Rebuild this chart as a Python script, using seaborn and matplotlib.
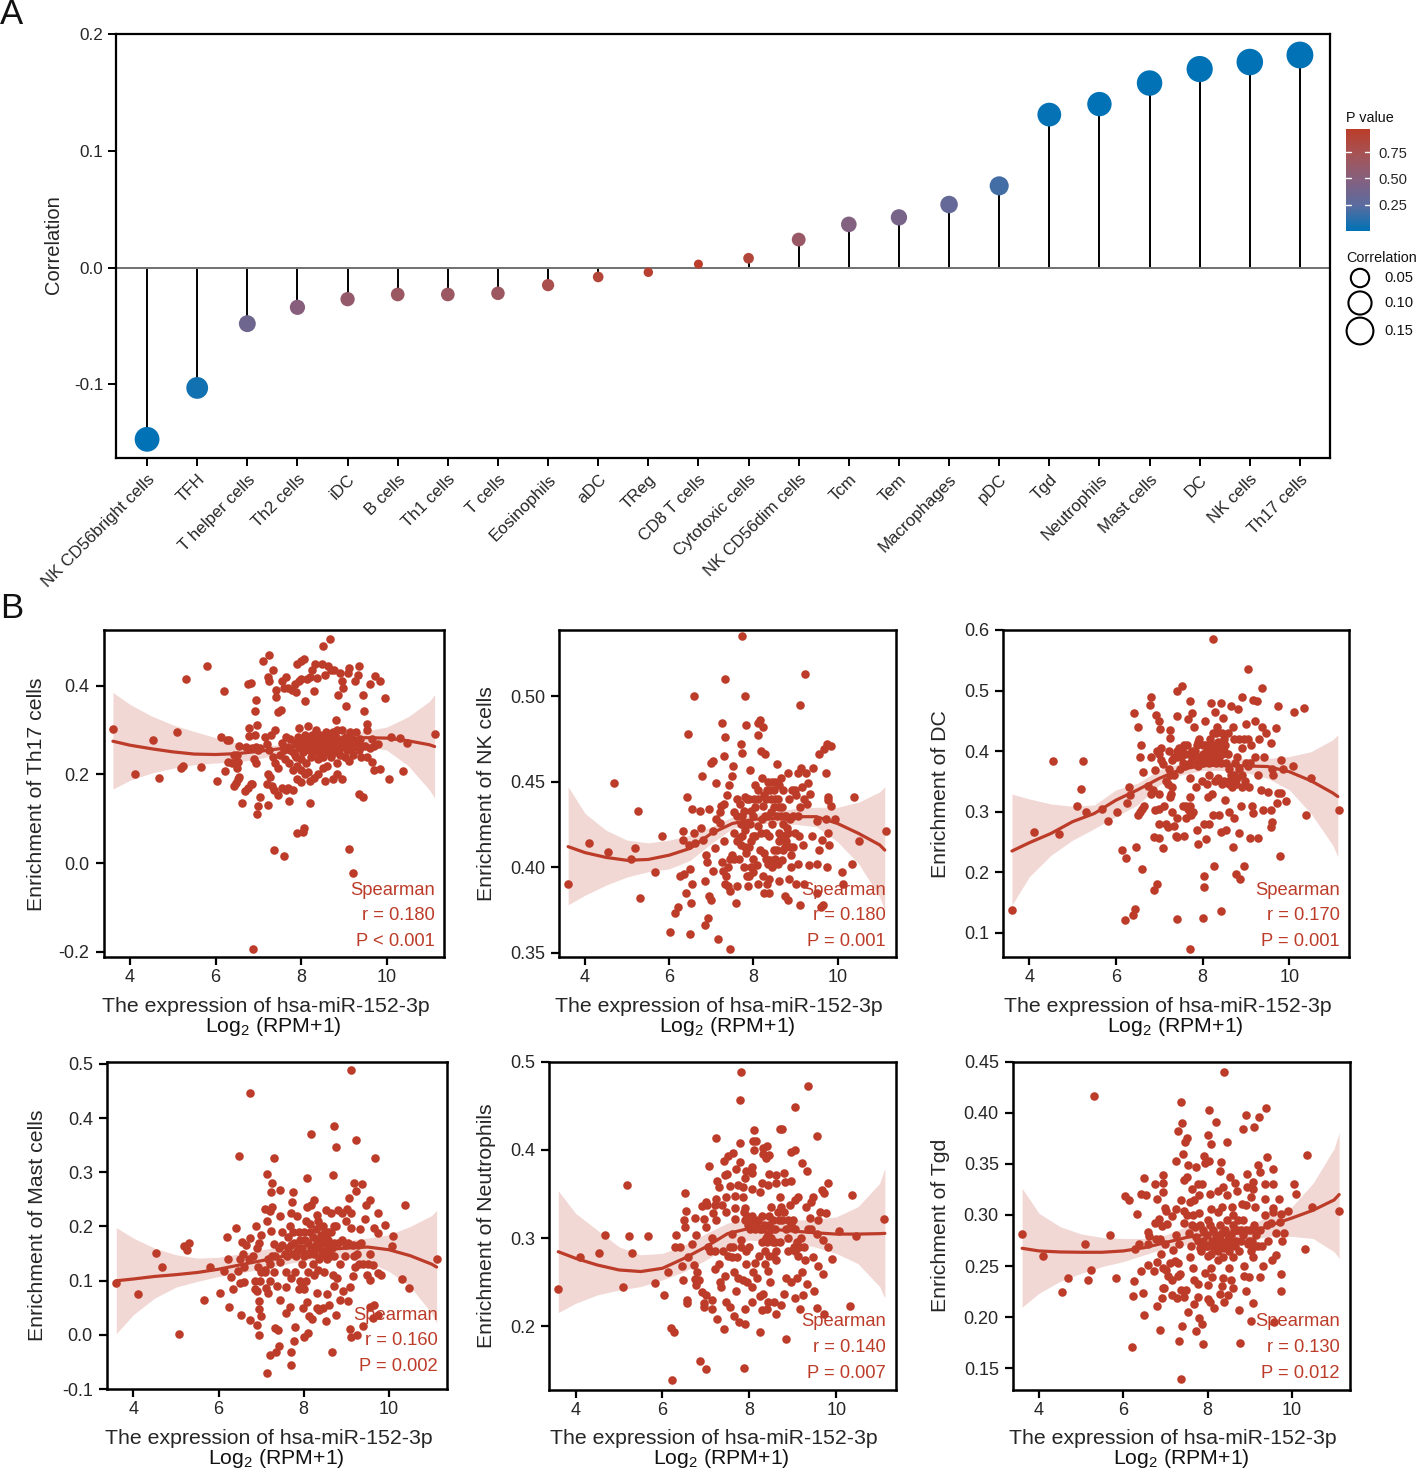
import numpy as np
import pandas as pd
import matplotlib
matplotlib.use("Agg")
import matplotlib.pyplot as plt
from matplotlib.cm import ScalarMappable
from matplotlib.colors import LinearSegmentedColormap, Normalize
import seaborn as sns

RED = "#BC3C29"
BLUE = "#0072B5"
W, H = 1416, 1472

# panel A
cell_types = ["NK CD56bright cells", "TFH", "T helper cells", "Th2 cells", "iDC", "B cells",
              "Th1 cells", "T cells", "Eosinophils", "aDC", "TReg", "CD8 T cells",
              "Cytotoxic cells", "NK CD56dim cells", "Tcm", "Tem", "Macrophages", "pDC",
              "Tgd", "Neutrophils", "Mast cells", "DC", "NK cells", "Th17 cells"]
correlation = [-0.147, -0.103, -0.048, -0.034, -0.027, -0.023, -0.023, -0.022, -0.015, -0.008,
               -0.004, 0.003, 0.008, 0.024, 0.037, 0.043, 0.054, 0.070, 0.131, 0.140, 0.158,
               0.170, 0.176, 0.182]
p_value = [0.004, 0.05, 0.36, 0.50, 0.60, 0.65, 0.65, 0.66, 0.77, 0.88, 0.93, 0.96, 0.87, 0.64,
           0.47, 0.41, 0.30, 0.18, 0.012, 0.007, 0.002, 0.001, 0.001, 0.0005]
legend_corr = [0.05, 0.10, 0.15]
p_ticks = [0.25, 0.50, 0.75]

# panel B: fitted curves
curve_x = [3.6, 4, 4.5, 5, 5.5, 6, 6.5, 7, 7.5, 8, 8.5, 9, 9.5, 10, 10.5, 11, 11.12]

th17_line = [.275, .266, .258, .251, .246, .245, .247, .252, .258, .265, .272, .279, .283, .282, .276, .267, .263]
th17_hi = [.385, .358, .332, .312, .297, .283, .271, .263, .267, .275, .282, .29, .298, .307, .33, .365, .38]
th17_lo = [.167, .187, .203, .214, .222, .226, .228, .235, .247, .255, .262, .266, .264, .255, .22, .165, .147]

nk_line = [.412, .4085, .4057, .404, .4045, .407, .411, .4197, .4255, .428, .4285, .4295, .4295, .4255, .4197, .413, .41]
nk_hi = [.447, .4314, .4216, .4158, .4142, .4158, .4187, .4236, .4294, .4314, .4324, .4343, .435, .435, .438, .444, .447]
nk_lo = [.378, .3836, .3895, .3943, .3973, .399, .404, .4138, .4226, .4255, .4255, .425, .4236, .4148, .402, .3826, .375]

dc_line = [.235, .2487, .264, .2835, .297, .319, .336, .355, .37, .376, .377, .3755, .3745, .366, .351, .331, .325]
dc_hi = [.329, .321, .3127, .309, .311, .336, .347, .369, .38, .3855, .3866, .388, .388, .391, .399, .4186, .427]
dc_lo = [.1456, .1925, .228, .253, .272, .292, .311, .344, .3607, .368, .368, .3645, .355, .336, .297, .245, .2255]

mast_line = [.0997, .103, .1077, .111, .115, .121, .129, .1366, .1446, .1526, .157, .16, .162, .157, .146, .1305, .125]
mast_hi = [.198, .1785, .16, .1477, .1415, .143, .1495, .157, .163, .169, .172, .174, .1785, .1846, .2, .22, .2295]
mast_lo = [.002, .037, .0677, .088, .0985, .1077, .114, .121, .129, .137, .14, .143, .135, .117, .089, .04, .0215]

neut_line = [.2845, .277, .2694, .2638, .262, .2657, .277, .29, .305, .311, .31, .308, .306, .3045, .3045, .305, .3053]
neut_hi = [.3536, .328, .309, .29, .281, .2826, .292, .305, .317, .322, .322, .3204, .321, .324, .3355, .362, .379]
neut_lo = [.2155, .226, .2355, .241, .245, .2525, .262, .275, .29, .2977, .296, .2947, .29, .2826, .271, .245, .2317]

tgd_line = [.2674, .2648, .2638, .2635, .2635, .2648, .268, .273, .278, .2814, .282, .2827, .29, .297, .3046, .3147, .32]
tgd_hi = [.326, .3016, .2886, .2814, .278, .277, .277, .2804, .2886, .29, .29, .29, .30, .308, .331, .365, .3805]
tgd_lo = [.2097, .2234, .235, .243, .2495, .2544, .261, .2674, .2707, .273, .274, .2755, .2795, .279, .277, .264, .2576]

# panel B: points as (expression, enrichment)
th17_points = [
    (3.6, .303), (4.12, .2), (4.54, .278), (4.68, .192), (5.09, .295), (5.19, .215), (5.25, .22), (5.3, .415),
    (5.67, .216), (5.81, .445), (6.03, .186), (6.13, .284), (6.22, .207), (6.2, .388), (6.26, .277), (6.32, .278),
    (6.75, .405), (6.82, .407), (6.92, .344), (6.95, .367), (6.98, .312), (7.12, .455), (7.23, .42), (7.26, .41),
    (7.26, .47), (7.35, .435), (7.42, .39), (7.42, .375), (7.47, .34), (7.52, .345), (7.55, .41), (7.6, .395),
    (7.65, .42), (7.7, .395), (7.78, .39), (7.85, .405), (7.88, .385), (7.9, .45), (7.95, .41), (8.0, .455),
    (8.0, .415), (8.06, .46), (8.1, .365), (8.13, .415), (8.2, .42), (8.25, .435), (8.3, .388), (8.32, .45),
    (8.38, .418), (8.5, .49), (8.48, .45), (8.55, .425), (8.62, .445), (8.68, .505), (8.7, .435), (8.78, .435),
    (8.87, .38), (8.92, .43), (8.95, .41), (8.98, .395), (9.05, .355), (9.1, .43), (9.12, .44), (9.27, .41),
    (9.35, .445), (9.33, .425), (9.45, .38), (9.47, .343), (9.6, .405), (9.73, .422), (9.85, .41), (9.95, .372),
    (8.82, .323), (8.83, .3), (6.3, .227), (6.38, .225), (6.42, .245), (6.48, .23), (6.5, .215), (6.52, .228),
    (6.55, .265), (6.5, .245), (6.42, .175), (6.47, .18), (6.52, .19), (6.55, .195), (6.62, .135), (6.68, .163),
    (6.75, .17), (6.82, .178), (6.85, .179), (6.98, .11), (7.0, .128), (7.05, .15), (7.22, .13), (7.2, .178),
    (7.22, .2), (7.27, .195), (7.32, .175), (7.37, .165), (7.45, .153), (7.37, .03), (7.6, .015), (7.55, .17),
    (7.65, .165), (7.7, .17), (7.72, .14), (7.8, .165), (7.9, .068), (8.05, .071), (8.06, .08), (8.2, .135),
    (7.9, .19), (8.0, .182), (8.2, .185), (8.3, .192), (8.4, .2), (8.55, .185), (8.75, .19), (8.85, .2),
    (8.95, .19), (9.12, .032), (9.22, -.022), (9.35, .155), (9.45, .15), (6.87, -.193), (7.9, .22), (8.0, .21),
    (8.1, .2), (8.15, .205), (8.5, .215), (8.6, .22), (9.4, .24), (9.55, .24), (9.65, .228), (9.7, .21),
    (9.85, .212), (10.06, .19), (10.37, .208), (10.1, .284), (10.31, .283), (10.47, .27), (11.12, .292), (9.5, .265),
    (9.6, .26), (9.65, .28), (9.7, .265), (9.8, .268), (9.55, .313), (9.55, .3), (6.7, .263), (6.85, .26),
    (6.95, .262), (7.0, .255), (7.05, .26), (6.9, .235), (6.95, .225), (6.78, .305), (6.78, .287), (6.92, .29),
    (7.15, .285), (7.2, .268), (7.25, .255), (7.3, .29), (7.4, .3), (7.35, .24), (7.4, .225), (7.45, .215),
    (7.5, .245), (7.55, .27), (7.6, .255), (7.62, .235), (7.65, .285), (7.7, .262), (7.72, .225), (7.75, .28),
    (7.8, .25), (7.82, .21), (7.85, .27), (7.88, .24), (7.92, .285), (7.95, .26), (7.95, .305), (8.0, .235),
    (8.02, .275), (8.05, .25), (8.1, .29), (8.1, .265), (8.12, .225), (8.15, .31), (8.18, .255), (8.2, .275),
    (8.22, .24), (8.25, .29), (8.28, .265), (8.3, .25), (8.32, .28), (8.35, .3), (8.38, .26), (8.4, .235),
    (8.42, .275), (8.45, .29), (8.45, .25), (8.48, .265), (8.5, .28), (8.52, .24), (8.55, .26), (8.58, .295),
    (8.6, .27), (8.62, .25), (8.65, .285), (8.68, .26), (8.7, .24), (8.72, .275), (8.75, .295), (8.78, .265),
    (8.8, .25), (8.82, .285), (8.85, .225), (8.88, .27), (8.9, .245), (8.92, .26), (8.95, .3), (8.98, .28),
    (9.0, .265), (9.02, .24), (9.05, .285), (9.08, .255), (9.1, .27), (9.12, .23), (9.15, .295), (9.18, .26),
    (9.2, .28), (9.22, .245), (9.28, .295), (9.3, .27), (9.35, .255), (9.38, .28), (9.42, .265),
    (7.75, .255), (7.85, .245), (7.98, .27), (8.08, .28), (8.16, .26), (8.24, .27), (8.34, .255), (8.44, .27),
    (8.54, .275), (8.64, .265), (8.74, .255), (8.84, .27), (8.94, .275), (9.04, .27), (9.14, .265), (9.24, .27),
]

nk_points = [
    (3.6, .39), (4.1, .414), (4.54, .409), (4.68, .449), (5.09, .405), (5.19, .411), (5.25, .433), (5.3, .382),
    (5.67, .397), (5.82, .418), (6.03, .362), (6.13, .373), (6.22, .377), (6.26, .395), (6.32, .421), (6.32, .416),
    (6.35, .396), (6.4, .385), (6.42, .441), (6.45, .478), (6.48, .413), (6.5, .399), (6.5, .361), (6.52, .379),
    (6.55, .39), (6.55, .434), (6.58, .42), (6.6, .5), (6.62, .414), (6.72, .433), (6.75, .423), (6.78, .453),
    (6.8, .416), (6.85, .366), (6.85, .392), (6.88, .407), (6.9, .403), (6.92, .37), (6.95, .383), (6.95, .434),
    (7.0, .381), (7.0, .461), (7.05, .462), (7.05, .398), (7.05, .421), (7.08, .411), (7.1, .449), (7.12, .428),
    (7.2, .432), (7.2, .426), (7.3, .415), (7.15, .358), (7.44, .352), (7.22, .436), (7.25, .403), (7.28, .398),
    (7.3, .465), (7.3, .437), (7.32, .39), (7.25, .484), (7.38, .442), (7.42, .448), (7.33, .51), (7.33, .476),
    (7.4, .389), (7.45, .386), (7.5, .407), (7.55, .405), (7.5, .453), (7.52, .459), (7.58, .379), (7.62, .389),
    (7.65, .417), (7.68, .437), (7.7, .413), (7.7, .472), (7.72, .467), (7.72, .535), (7.8, .5), (7.82, .483),
    (7.72, .43), (7.8, .441), (7.8, .422), (7.85, .395), (7.88, .389), (7.9, .412), (7.92, .457), (7.95, .433),
    (7.98, .418), (8.0, .397), (8.02, .44), (8.05, .448), (8.08, .401), (8.1, .424), (8.1, .477), (8.12, .484),
    (8.15, .486), (8.18, .468), (8.2, .452), (8.22, .436), (8.25, .385), (8.25, .408), (8.22, .482), (8.3, .42),
    (8.32, .445), (8.28, .466), (8.38, .393), (8.4, .404), (8.42, .432), (8.45, .45), (8.38, .385), (8.5, .41),
    (8.52, .44), (8.55, .46), (8.58, .402), (8.6, .42), (8.62, .435), (8.65, .452), (8.68, .404), (8.7, .445),
    (8.62, .392), (8.75, .43), (8.78, .415), (8.8, .423), (8.82, .455), (8.75, .383), (8.88, .428), (8.9, .407),
    (8.85, .393), (8.82, .381), (9.02, .442), (9.05, .455), (9.08, .418), (9.1, .495), (9.1, .378), (9.12, .458),
    (9.15, .447), (9.18, .413), (9.2, .39), (9.22, .513), (9.25, .455), (9.28, .437), (9.3, .449), (9.32, .401),
    (9.35, .443), (9.4, .418), (9.42, .458), (9.5, .427), (9.5, .402), (9.5, .385), (9.55, .41), (9.55, .466),
    (9.6, .377), (9.62, .416), (9.65, .378), (9.68, .469), (9.72, .455), (9.72, .428), (9.78, .439), (9.75, .472),
    (9.85, .471), (9.8, .413), (9.78, .42), (9.78, .441), (9.75, .4), (9.85, .436), (9.94, .428), (10.1, .397),
    (10.13, .39), (10.35, .402), (10.39, .441), (10.5, .415), (11.14, .421),
    (7.6, .43), (7.75, .425), (7.9, .44), (8.0, .43), (8.1, .44), (8.2, .428), (8.3, .44), (8.35, .43),
    (8.4, .445), (8.45, .425), (8.5, .445), (8.55, .43), (8.6, .415), (8.65, .43), (8.7, .425), (8.75, .418),
    (8.85, .44), (8.95, .43), (9.0, .445), (9.1, .435), (9.2, .44), (7.65, .405), (7.8, .412), (7.95, .4),
    (8.15, .41), (8.35, .402), (8.45, .4), (8.55, .41), (8.75, .412), (8.95, .412), (9.05, .402),
    (7.55, .432), (7.62, .44), (7.7, .425), (7.78, .433), (7.85, .44), (7.92, .425), (8.05, .435), (8.12, .445),
    (8.25, .442), (8.28, .43), (8.35, .45), (8.42, .44), (8.48, .435), (8.52, .45), (8.58, .44), (8.62, .448),
    (8.68, .435), (8.72, .418), (8.78, .43), (8.82, .42), (8.86, .412), (8.92, .445), (9.0, .42), (9.05, .43),
    (7.6, .415), (7.72, .418), (7.82, .408), (7.95, .415), (8.05, .418), (8.18, .42), (8.3, .405), (8.38, .418),
    (8.48, .402), (8.52, .405), (8.65, .418), (8.7, .41), (7.55, .42), (8.12, .39), (8.22, .395), (8.32, .39),
    (7.78, .4), (7.9, .395), (8.0, .405), (7.4, .4), (7.45, .405), (7.35, .395), (8.9, .4), (9.02, .39),
]

dc_points = [
    (3.6, .138), (4.1, .266), (4.54, .383), (4.68, .263), (5.09, .309), (5.19, .338), (5.25, .383), (5.3, .3),
    (5.67, .305), (5.82, .285), (6.03, .3), (6.13, .236), (6.22, .121), (6.23, .224), (6.26, .314), (6.3, .34),
    (6.33, .328), (6.4, .13), (6.42, .463), (6.45, .14), (6.47, .241), (6.5, .44), (6.52, .295), (6.55, .391),
    (6.55, .3), (6.58, .41), (6.6, .206), (6.6, .305), (6.62, .366), (6.65, .31), (6.75, .342), (6.8, .33),
    (6.82, .39), (6.85, .335), (6.88, .258), (6.9, .368), (6.78, .476), (6.82, .49), (6.95, .4), (6.87, .17),
    (6.9, .302), (7.05, .385), (6.93, .459), (6.95, .18), (7.0, .304), (7.02, .437), (7.0, .395), (7.0, .45),
    (7.05, .405), (7.0, .33), (7.0, .28), (7.0, .256), (7.08, .378), (7.08, .24), (7.15, .28), (7.12, .31),
    (7.2, .275), (7.15, .35), (7.22, .4), (7.25, .325), (7.25, .422), (7.25, .435), (7.25, .36), (7.3, .34),
    (7.3, .385), (7.35, .277), (7.3, .3), (7.38, .26), (7.4, .258), (7.42, .29), (7.4, .5), (7.42, .39),
    (7.41, .123), (7.42, .458), (7.52, .508), (7.48, .37), (7.52, .402), (7.55, .31), (7.58, .26), (7.62, .29),
    (7.6, .375), (7.67, .453), (7.71, .482), (7.75, .463), (7.72, .074), (7.7, .325), (7.72, .31), (7.72, .355),
    (7.75, .4), (7.78, .3), (7.8, .44), (7.82, .385), (7.85, .34), (7.88, .27), (7.9, .246), (7.92, .42),
    (7.95, .38), (7.98, .35), (8.0, .41), (8.02, .125), (8.04, .176), (8.04, .194), (8.03, .28), (8.08, .255),
    (8.05, .45), (8.1, .39), (8.12, .325), (8.15, .36), (8.15, .28), (8.18, .41), (8.2, .48), (8.25, .585),
    (8.22, .33), (8.25, .295), (8.27, .21), (8.28, .465), (8.3, .43), (8.32, .38), (8.35, .355), (8.38, .295),
    (8.42, .136), (8.42, .48), (8.42, .267), (8.45, .41), (8.48, .455), (8.5, .35), (8.52, .32), (8.55, .27),
    (8.58, .43), (8.6, .3), (8.62, .37), (8.65, .475), (8.69, .242), (8.7, .44), (8.72, .29), (8.75, .345),
    (8.77, .197), (8.8, .39), (8.82, .47), (8.85, .265), (8.86, .188), (8.88, .31), (8.9, .36), (8.92, .489),
    (8.95, .211), (8.95, .42), (8.98, .35), (9.0, .445), (9.04, .536), (9.05, .375), (9.08, .34), (9.09, .256),
    (9.12, .41), (9.15, .31), (9.17, .485), (9.17, .297), (9.2, .45), (9.25, .482), (9.27, .256), (9.28, .36),
    (9.3, .42), (9.35, .335), (9.38, .505), (9.38, .44), (9.4, .303), (9.42, .39), (9.46, .43), (9.5, .332),
    (9.58, .413), (9.57, .303), (9.57, .275), (9.59, .283), (9.6, .37), (9.62, .36), (9.69, .438), (9.72, .315),
    (9.75, .475), (9.75, .331), (9.8, .385), (9.79, .227), (9.82, .331), (9.85, .37), (9.92, .318), (10.08, .375),
    (10.12, .464), (10.33, .471), (10.38, .295), (10.49, .355), (11.15, .303),
    (7.6, .395), (7.7, .38), (7.8, .395), (7.9, .375), (8.0, .38), (8.05, .395), (8.12, .405), (8.18, .39),
    (8.25, .41), (8.3, .395), (8.35, .415), (8.42, .38), (8.5, .4), (8.55, .38), (8.6, .35), (8.65, .36),
    (8.7, .35), (8.75, .38), (8.8, .355), (8.85, .42), (8.9, .34), (9.0, .38), (9.05, .42), (9.2, .39),
    (7.35, .39), (7.45, .405), (7.55, .38), (7.65, .41), (7.9, .415), (8.1, .345), (8.28, .35), (8.45, .345),
    (7.82, .4), (7.88, .41), (7.94, .39), (8.0, .395), (8.06, .41), (8.14, .38), (8.2, .4), (8.27, .385),
    (8.33, .405), (8.38, .39), (8.45, .395), (8.52, .41), (8.58, .395), (8.62, .345), (8.68, .34), (8.72, .36),
    (8.78, .345), (8.83, .37), (7.2, .345), (7.22, .37), (7.28, .33), (7.35, .36), (7.4, .4), (7.5, .39),
    (7.58, .41), (7.68, .395), (7.76, .385), (8.1, .4), (8.16, .42), (8.24, .43), (8.34, .44), (8.44, .43),
    (7.7, .3), (7.74, .295), (7.66, .305), (7.62, .31), (8.5, .42), (8.72, .42), (8.9, .405), (9.1, .38),
]

mast_points = [
    (3.6, .095), (4.1, .076), (4.54, .151), (4.68, .126), (5.07, .002), (5.19, .163), (5.25, .157), (5.3, .17),
    (5.67, .064), (5.81, .125), (6.03, .078), (6.2, .18), (6.22, .14), (6.24, .052), (6.13, .118), (6.3, .107),
    (6.75, .446), (6.48, .33), (7.3, .327), (7.13, .297), (7.26, .281), (7.22, .263), (7.44, .268), (7.75, .263),
    (8.08, .29), (8.18, .371), (8.71, .385), (8.76, .346), (9.22, .36), (9.1, .488), (9.68, .326), (8.69, .294),
    (9.18, .28), (9.37, .278), (9.23, .266), (9.06, .252), (10.37, .24), (9.56, .249), (9.47, .239), (9.74, .225),
    (9.43, .214), (9.66, .197), (9.74, .188), (9.91, .203), (10.1, .182), (10.07, .163), (11.12, .14), (10.31, .103),
    (10.47, .087), (9.74, .114), (9.82, .11), (9.56, .102), (9.49, .111), (9.63, .129), (9.16, .109), (9.08, .089),
    (9.04, .062), (9.55, .052), (9.64, .055), (9.74, .037), (9.63, .031), (9.39, .017), (9.25, 0), (9.12, -.004),
    (9.09, .011), (8.67, -.031), (8.53, .025), (8.75, .036), (8.1, .003), (8.0, -.004), (7.77, -.012), (7.79, .014),
    (7.71, -.031), (7.71, -.055), (7.14, -.071), (7.2, -.037), (7.34, -.032), (7.41, -.02), (7.32, .012), (7.4, .008),
    (6.95, -.001), (6.91, .018), (6.75, .028), (7.0, .034), (6.95, .047), (6.95, .062), (6.52, .037), (6.34, .085),
    (7.59, .041), (7.67, .052), (7.44, .065), (7.38, .09), (7.58, .089), (7.15, .077), (7.11, .087), (7.2, .1),
    (6.42, .197), (6.55, .172), (6.65, .165), (6.75, .178), (6.5, .14), (6.58, .15), (6.45, .118), (6.6, .125),
    (6.5, .095), (6.6, .098), (6.82, .145), (6.72, .14), (6.9, .16), (6.95, .17), (7.0, .185), (6.88, .2),
    (6.85, .1), (6.85, .085), (6.9, .08), (6.92, .125), (7.0, .115), (7.1, .232), (7.13, .21), (7.22, .192),
    (7.25, .235), (7.2, .228), (7.1, .12), (7.2, .13), (7.3, .115), (7.32, .145), (7.3, .168), (7.45, .22),
    (7.48, .19), (7.42, .16), (7.55, .15), (7.58, .115), (7.62, .18), (7.68, .2), (7.7, .225), (7.72, .245),
    (7.75, .15), (7.78, .17), (7.8, .115), (7.85, .22), (7.88, .19), (7.9, .16), (7.92, .1), (7.95, .13),
    (7.98, .05), (8.0, .085), (8.02, .175), (8.05, .21), (8.08, .235), (8.08, .06), (8.12, .15), (8.12, .035),
    (8.15, .19), (8.18, .24), (8.2, .03), (8.22, .13), (8.25, .248), (8.28, .165), (8.3, .222), (8.32, .077),
    (8.32, .05), (8.35, .14), (8.35, .045), (8.38, .2), (8.42, .175), (8.45, .05), (8.48, .115), (8.5, .155),
    (8.52, .23), (8.55, .075), (8.58, .19), (8.6, .055), (8.62, .145), (8.65, .225), (8.68, .11), (8.7, .17),
    (8.72, .09), (8.75, .2), (8.78, .105), (8.8, .23), (8.85, .065), (8.85, .13), (8.9, .175), (8.92, .08),
    (8.98, .145), (9.0, .21), (9.02, .232), (9.05, .17), (9.1, .225), (9.12, .198), (9.18, .145), (9.2, .125),
    (9.28, .165), (9.3, .13), (9.32, .195), (9.35, .17), (9.4, .13), (9.5, .13), (9.55, .15),
    (7.95, .16), (8.05, .15), (8.1, .17), (8.18, .16), (8.25, .15), (8.3, .175), (8.36, .16), (8.42, .15),
    (8.46, .17), (8.52, .18), (8.56, .165), (8.6, .15), (8.66, .16), (8.7, .145), (7.6, .145), (7.85, .155),
    (7.45, .135), (7.5, .165), (7.62, .16), (7.7, .165), (7.82, .145), (7.92, .175), (8.0, .19), (8.0, .145),
    (8.15, .205), (8.22, .18), (8.28, .195), (8.34, .21), (8.4, .185), (8.45, .2), (8.5, .19), (8.55, .14),
    (8.58, .175), (8.64, .19), (8.7, .2), (7.75, .19), (7.7, .105), (7.9, .085), (7.96, .09), (8.05, .1),
    (8.1, .115), (8.25, .11), (8.34, .12), (7.15, .14), (7.25, .145), (7.08, .115), (6.98, .1), (8.9, .225),
    (9.15, .165), (9.25, .15), (9.0, .165), (8.8, .17),
]

neut_points = [
    (7.8, .488), (9.36, .473), (7.78, .457), (9.06, .449), (8.11, .423), (8.7, .424), (8.76, .424), (9.56, .416),
    (7.24, .414), (7.79, .408), (8.08, .41), (8.16, .41), (8.1, .4), (8.31, .402), (8.41, .404), (8.31, .395),
    (8.45, .394), (8.38, .391), (8.97, .398), (9.04, .4), (7.62, .397), (7.51, .393), (7.42, .387), (7.07, .382),
    (7.78, .386), (7.69, .378), (8.05, .381), (7.92, .376), (8.05, .374), (9.22, .385), (9.33, .376), (7.43, .372),
    (7.49, .373), (8.45, .373), (8.62, .371), (8.8, .374), (7.26, .365), (7.3, .358), (7.89, .368), (7.55, .359),
    (7.74, .36), (7.85, .358), (8.07, .356), (8.3, .362), (8.24, .352), (8.43, .36), (8.62, .362), (8.81, .364),
    (8.97, .365), (9.81, .362), (9.67, .354), (9.71, .351), (10.36, .349), (6.51, .351), (6.55, .331), (7.24, .344),
    (7.2, .337), (6.9, .336), (7.0, .341), (7.03, .337), (7.16, .328), (7.46, .347), (7.66, .348), (7.38, .337),
    (7.66, .334), (7.89, .334), (7.85, .347), (8.7, .347), (9.12, .347), (9.04, .343), (9.46, .347), (9.43, .341),
    (9.3, .335), (8.93, .337), (8.5, .335), (6.74, .323), (6.96, .322), (7.0, .312), (7.23, .32), (7.47, .33),
    (7.68, .322), (9.39, .323), (9.62, .329), (9.77, .328), (9.58, .32), (10.06, .308), (10.46, .302), (11.11, .322),
    (10.31, .223), (9.73, .214), (9.56, .221), (9.48, .24), (9.69, .259), (9.58, .268), (9.9, .276), (9.81, .29),
    (9.69, .298), (9.46, .279), (9.16, .219), (8.72, .224), (8.85, .185), (8.8, .236), (9.04, .232), (9.33, .248),
    (9.23, .235), (8.62, .214), (8.24, .194), (7.87, .153), (7.0, .151), (6.87, .161), (6.22, .139), (6.2, .198),
    (6.26, .194), (6.04, .235), (5.82, .249), (5.1, .244), (3.6, .242), (4.1, .278), (4.54, .283), (4.67, .304),
    (5.19, .36), (5.23, .302), (5.3, .283), (5.67, .302), (6.13, .262), (6.32, .303), (6.28, .29), (6.4, .29),
    (6.5, .32), (6.51, .312), (6.48, .252), (6.57, .23), (6.57, .226), (6.44, .268), (6.69, .293), (6.59, .279),
    (6.73, .269), (6.8, .262), (6.78, .304), (6.74, .253), (6.84, .252), (6.78, .247), (6.92, .239), (7.0, .235),
    (6.96, .226), (6.96, .222), (7.14, .23), (7.14, .22), (7.26, .208), (7.41, .197), (7.65, .212), (7.76, .205),
    (7.89, .203), (7.89, .22), (7.47, .227), (7.55, .222), (7.7, .24), (8.07, .228), (8.24, .234), (8.31, .237),
    (8.28, .218), (8.4, .219), (8.44, .228), (8.56, .228), (7.1, .285), (7.15, .3), (7.2, .265), (7.3, .27),
    (7.32, .25), (7.35, .245), (7.45, .257), (7.55, .29), (7.6, .278), (7.65, .262), (7.72, .278), (7.75, .255),
    (7.8, .298), (7.85, .252), (7.92, .27), (7.95, .25), (8.0, .29), (8.05, .245), (8.08, .262), (8.12, .272),
    (8.18, .255), (8.22, .28), (8.28, .31), (8.35, .27), (8.4, .295), (8.42, .263), (8.48, .25), (8.52, .31),
    (8.55, .28), (8.62, .275), (8.7, .295), (8.75, .32), (8.85, .255), (8.9, .3), (8.95, .25), (9.02, .29),
    (9.1, .255), (9.12, .28), (9.18, .3), (9.22, .262), (9.28, .275), (9.35, .31), (9.42, .31), (9.55, .305),
    (7.9, .32), (7.98, .315), (8.05, .325), (8.12, .31), (8.2, .32), (8.3, .325), (8.38, .3), (8.45, .315),
    (8.5, .3), (8.58, .295), (8.65, .33), (8.8, .33), (8.88, .32), (9.0, .32), (9.06, .31), (7.6, .305),
    (7.88, .33), (7.94, .325), (8.02, .31), (8.08, .32), (8.16, .315), (8.24, .31), (8.34, .315), (8.42, .305),
    (8.46, .325), (8.54, .32), (8.6, .31), (8.68, .32), (8.74, .335), (8.84, .31), (8.95, .315), (9.1, .295),
    (7.5, .28), (7.4, .285), (7.62, .29), (7.8, .29), (7.92, .285), (8.3, .295), (8.35, .285), (8.46, .28),
    (8.55, .295), (8.62, .285), (8.9, .285), (9.05, .285), (9.15, .29), (9.25, .29), (7.2, .285), (7.05, .29),
]

tgd_points = [
    (8.39, .44), (5.3, .416), (7.38, .411), (8.04, .403), (9.38, .405), (8.92, .398), (9.22, .396), (7.4, .39),
    (8.2, .391), (7.3, .382), (8.83, .384), (9.11, .386), (8.0, .378), (7.5, .375), (7.46, .371), (8.07, .369),
    (8.47, .371), (7.42, .36), (7.92, .358), (7.26, .353), (7.94, .351), (8.03, .353), (8.32, .352), (7.54, .349),
    (7.72, .347), (9.41, .357), (9.2, .349), (9.24, .342), (9.56, .345), (10.36, .359), (8.29, .343), (8.94, .34),
    (6.49, .336), (6.93, .339), (6.75, .33), (6.93, .331), (7.44, .334), (7.5, .337), (8.54, .337), (9.08, .332),
    (9.36, .33), (9.56, .33), (10.06, .33), (10.09, .321), (6.04, .319), (6.13, .315), (6.41, .321), (6.54, .32),
    (6.81, .316), (6.95, .322), (7.78, .33), (7.86, .33), (7.62, .325), (7.79, .32), (8.05, .321), (8.36, .327),
    (8.25, .323), (8.45, .32), (8.66, .331), (8.69, .323), (8.94, .327), (9.08, .325), (9.03, .318), (9.37, .316),
    (9.69, .316), (9.56, .307), (6.33, .301), (6.99, .307), (7.01, .304), (7.24, .306), (7.15, .299), (7.38, .315),
    (7.45, .304), (7.58, .313), (7.68, .315), (7.79, .302), (8.09, .306), (8.25, .303), (8.33, .308), (8.57, .308),
    (8.81, .311), (8.92, .31), (9.12, .308), (9.36, .3), (9.56, .303), (9.75, .301), (9.91, .304), (10.47, .308),
    (11.12, .304), (10.31, .267), (9.73, .226), (9.74, .242), (9.61, .261), (9.77, .275), (9.81, .282), (9.62, .282),
    (9.72, .293), (9.44, .275), (9.52, .256), (9.32, .25), (9.24, .239), (9.08, .259), (9.08, .214), (8.92, .226),
    (8.99, .239), (8.86, .24), (8.86, .25), (8.75, .207), (8.77, .175), (9.04, .196), (9.58, .195), (7.9, .174),
    (7.4, .191), (7.87, .193), (7.79, .199), (7.72, .186), (7.33, .177), (6.87, .187), (6.21, .171), (7.37, .139),
    (6.5, .202), (6.79, .211), (7.53, .205), (7.68, .213), (7.76, .22), (8.16, .209), (8.06, .215), (8.02, .218),
    (8.0, .231), (8.4, .215), (8.29, .223), (8.49, .222), (8.33, .23), (8.61, .229), (8.55, .236), (8.37, .238),
    (8.11, .239), (7.68, .236), (7.78, .232), (7.38, .227), (7.48, .227), (7.28, .219), (7.15, .222), (7.44, .22),
    (6.92, .219), (6.96, .229), (6.93, .229), (6.47, .224), (6.22, .221), (6.26, .235), (6.43, .245), (6.73, .245),
    (6.59, .251), (6.79, .254), (6.89, .262), (6.95, .248), (7.01, .246), (7.07, .24), (7.16, .236), (7.3, .24),
    (7.34, .242), (7.11, .253), (7.22, .255), (7.17, .266), (7.29, .253), (7.58, .259), (7.66, .248), (7.93, .243),
    (8.09, .248), (8.25, .256), (8.37, .259), (8.5, .248), (8.61, .259), (3.6, .281), (4.1, .26), (4.54, .225),
    (4.68, .238), (5.09, .272), (5.17, .236), (5.23, .246), (5.68, .28), (5.82, .238), (6.28, .267), (6.38, .272),
    (6.58, .283), (6.61, .279), (6.58, .272), (6.77, .276), (6.87, .276), (6.99, .272), (6.75, .292), (6.85, .296),
    (6.91, .289), (7.03, .291), (7.25, .28), (7.32, .272), (7.45, .292), (7.55, .282), (7.6, .27), (7.7, .288),
    (7.78, .275), (7.85, .265), (7.9, .285), (7.95, .27), (8.0, .26), (8.05, .29), (8.1, .275), (8.15, .268),
    (8.2, .28), (8.25, .265), (8.3, .29), (8.32, .275), (8.38, .27), (8.42, .285), (8.45, .275), (8.5, .265),
    (8.55, .28), (8.6, .29), (8.65, .27), (8.7, .285), (8.75, .265), (8.8, .275), (8.85, .28), (8.95, .272),
    (9.0, .285), (9.05, .275), (9.1, .29), (9.15, .28), (9.2, .27), (9.3, .27), (9.4, .29), (9.5, .292),
    (7.62, .29), (7.72, .278), (7.82, .268), (7.88, .275), (7.98, .28), (8.02, .27), (8.08, .262), (8.12, .285),
    (8.18, .275), (8.22, .27), (8.28, .278), (8.35, .282), (8.4, .268), (8.48, .28), (8.52, .272), (8.58, .275),
    (8.62, .285), (8.68, .275), (8.72, .295), (8.78, .285), (8.9, .285), (8.98, .275), (9.02, .265), (9.12, .27),
    (9.25, .285), (7.5, .3), (7.65, .3), (7.82, .29), (8.0, .295), (8.45, .295), (8.6, .3), (8.85, .295),
]

# label, points, curve, ticks, limits, axes box, stats, text positions
panels = [
    dict(name="Th17 cells", points=th17_points, line=th17_line, hi=th17_hi, lo=th17_lo,
         yticks=[-0.2, 0.0, 0.2, 0.4], yfmt="%.1f", xlim=(3.38, 11.34), ylim=(-0.212, 0.526),
         box=(103.5, 630, 444, 957), stats=("r = 0.180", "P < 0.001"), tx=435, ty=(890, 915.5, 941),
         xl=(266, 1006), xl2=(273, 1027), yl=(37, 794)),
    dict(name="NK cells", points=nk_points, line=nk_line, hi=nk_hi, lo=nk_lo,
         yticks=[0.35, 0.40, 0.45, 0.50], yfmt="%.2f", xlim=(3.39, 11.38), ylim=(0.3475, 0.5386),
         box=(559.3, 630, 895.7, 957), stats=("r = 0.180", "P = 0.001"), tx=885.5, ty=(890, 915, 941),
         xl=(719, 1006), xl2=(727, 1027), yl=(487, 794)),
    dict(name="DC", points=dc_points, line=dc_line, hi=dc_hi, lo=dc_lo,
         yticks=[0.1, 0.2, 0.3, 0.4, 0.5, 0.6], yfmt="%.1f", xlim=(3.4, 11.385), ylim=(0.06, 0.6),
         box=(1003.3, 630, 1349.3, 957), stats=("r = 0.170", "P = 0.001"), tx=1339.5, ty=(890, 915, 941),
         xl=(1167.7, 1006), xl2=(1175, 1027), yl=(941, 794)),
    dict(name="Mast cells", points=mast_points, line=mast_line, hi=mast_hi, lo=mast_lo,
         yticks=[-0.1, 0.0, 0.1, 0.2, 0.3, 0.4, 0.5], yfmt="%.1f", xlim=(3.375, 11.37), ylim=(-0.1, 0.504),
         box=(106.7, 1061.7, 447.3, 1389), stats=("r = 0.160", "P = 0.002"), tx=438, ty=(1315, 1340.7, 1366.7),
         xl=(268.7, 1438), xl2=(276.7, 1459), yl=(38, 1225.5)),
    dict(name="Neutrophils", points=neut_points, line=neut_line, hi=neut_hi, lo=neut_lo,
         yticks=[0.2, 0.3, 0.4, 0.5], yfmt="%.1f", xlim=(3.38, 11.37), ylim=(0.128, 0.5),
         box=(548.7, 1061.7, 895.7, 1389.7), stats=("r = 0.140", "P = 0.007"), tx=886, ty=(1321.7, 1347, 1373),
         xl=(714, 1438), xl2=(721.7, 1459), yl=(486.7, 1225.5)),
    dict(name="Tgd", points=tgd_points, line=tgd_line, hi=tgd_hi, lo=tgd_lo,
         yticks=[0.15, 0.20, 0.25, 0.30, 0.35, 0.40, 0.45], yfmt="%.2f", xlim=(3.376, 11.37), ylim=(0.129, 0.45),
         box=(1012.7, 1061.7, 1349.7, 1389.7), stats=("r = 0.130", "P = 0.012"), tx=1339.5, ty=(1322, 1347, 1373),
         xl=(1173, 1438), xl2=(1181, 1459), yl=(941, 1225)),
]

sns.set_theme(style="ticks")
plt.rcParams["font.family"] = ["Liberation Sans", "DejaVu Sans"]
plt.rcParams["mathtext.default"] = "regular"
plt.rcParams["mathtext.fontset"] = "custom"
plt.rcParams["mathtext.rm"] = "Liberation Sans"
plt.rcParams["text.color"] = "#111111"


def axes_px(fig, left, top, right, bottom):
    return fig.add_axes([left / W, 1 - bottom / H, (right - left) / W, (bottom - top) / H])


def dot_area(r):
    # marker area (pt^2) from the absolute correlation
    d_px = 6.4 + 48 * np.sqrt(np.abs(r))
    return (d_px * 0.72) ** 2


fig = plt.figure(figsize=(W / 100, H / 100), dpi=100)
fig.patch.set_facecolor("white")

fig.text(0 / W, 1 - 14 / H, "A", fontsize=25, ha="left", va="center")
fig.text(0 / W, 1 - 608 / H, "B", fontsize=25, ha="left", va="center")

# ---- panel A ----
ax = axes_px(fig, 116, 34, 1330, 458)
df = pd.DataFrame({"cell": cell_types, "corr": correlation, "p": p_value})
df["area"] = dot_area(df["corr"])
pos = np.arange(len(df))
cmap = LinearSegmentedColormap.from_list("pval", [BLUE, "#5A6C9F", "#85607F", "#A55456", RED])
p_norm = Normalize(0, 0.97)

ax.vlines(pos, 0, df["corr"], color="black", lw=1.4, zorder=1)
ax.axhline(0, color="#707070", lw=1.4, zorder=1)
sns.scatterplot(data=df, x=pos, y="corr", hue="p", hue_norm=p_norm, palette=cmap,
                size="area", sizes=(df["area"].min(), df["area"].max()), linewidth=0,
                legend=False, ax=ax, zorder=3)
ax.set_xlim(-0.62, 23.6)
ax.set_ylim(-0.163, 0.2)
ax.set_yticks([-0.1, 0.0, 0.1, 0.2])
ax.set_yticklabels(["-0.1", "0.0", "0.1", "0.2"])
ax.set_xticks(pos)
ax.set_xticklabels(cell_types, rotation=45, ha="right", rotation_mode="anchor")
ax.set_xlabel("")
ax.set_ylabel("Correlation", fontsize=14.5)
ax.yaxis.set_label_coords(53 / W, 1 - 245 / H, transform=fig.transFigure)
ax.yaxis.label.set_va("center")
ax.tick_params(axis="both", length=6, width=1.4, color="black")
ax.tick_params(axis="y", labelsize=12.3, pad=3)
ax.tick_params(axis="x", labelsize=12.2, pad=4)
for s in ax.spines.values():
    s.set_linewidth(1.6)
    s.set_color("black")

# P value colour bar
cax = axes_px(fig, 1346, 129, 1370, 231)
cb = fig.colorbar(ScalarMappable(norm=p_norm, cmap=cmap), cax=cax)
cb.outline.set_visible(False)
cb.set_ticks(p_ticks)
cb.set_ticklabels(["%.2f" % t for t in p_ticks])
cax.tick_params(length=0, labelsize=10.6, pad=6)
for t in p_ticks:
    cax.plot([0, 0.2], [t, t], color="white", lw=1, transform=cax.get_yaxis_transform())
    cax.plot([0.8, 1], [t, t], color="white", lw=1, transform=cax.get_yaxis_transform())
fig.text(1346 / W, 1 - 118.5 / H, "P value", fontsize=10.4, ha="left", va="center")

# Correlation size legend
fig.text(1346 / W, 1 - 258 / H, "Correlation", fontsize=10.4, ha="left", va="center")
lax = axes_px(fig, 1340, 262, 1416, 346)
lax.set_xlim(1340, 1416)
lax.set_ylim(346, 262)
lax.axis("off")
leg_df = pd.DataFrame({"corr": legend_corr, "row": [278, 303, 331]})
leg_df["area"] = dot_area(leg_df["corr"]) * 1.15
sns.scatterplot(data=leg_df, x=[1360] * 3, y="row", size="area",
                sizes=(leg_df["area"].min(), leg_df["area"].max()), facecolor="white",
                edgecolor="black", linewidth=1.5, legend=False, ax=lax, clip_on=False)
for c, row in zip(legend_corr, leg_df["row"]):
    lax.text(1384, row, "%.2f" % c, fontsize=10.6, ha="left", va="center")
lax.set_xlabel("")
lax.set_ylabel("")

# ---- panel B ----
for p in panels:
    ax = axes_px(fig, *p["box"])
    pts = pd.DataFrame(p["points"], columns=["expr", "enrich"])
    curve = pd.DataFrame({"x": curve_x, "y": p["line"], "hi": p["hi"], "lo": p["lo"]})

    ax.fill_between(curve["x"], curve["lo"], curve["hi"], color=RED, alpha=0.2, linewidth=0, zorder=1)
    sns.scatterplot(data=pts, x="expr", y="enrich", color=RED, s=38, linewidth=0, ax=ax, zorder=2)
    sns.lineplot(data=curve, x="x", y="y", color=RED, lw=2.3, ax=ax, zorder=3, errorbar=None)

    ax.set_xlim(*p["xlim"])
    ax.set_ylim(*p["ylim"])
    ax.set_xticks([4, 6, 8, 10])
    ax.set_yticks(p["yticks"])
    ax.set_yticklabels([(p["yfmt"] % v) for v in p["yticks"]])
    ax.tick_params(axis="both", length=6, width=1.6, color="black", labelsize=13, pad=3)
    ax.tick_params(axis="y", pad=4)
    for s in ax.spines.values():
        s.set_linewidth(1.8)
        s.set_color("black")

    ax.set_xlabel("The expression of hsa-miR-152-3p", fontsize=15.3)
    ax.xaxis.set_label_coords(p["xl"][0] / W, 1 - p["xl"][1] / H, transform=fig.transFigure)
    ax.xaxis.label.set_va("center")
    ax.set_ylabel("Enrichment of " + p["name"], fontsize=15.3)
    ax.yaxis.set_label_coords(p["yl"][0] / W, 1 - p["yl"][1] / H, transform=fig.transFigure)
    ax.yaxis.label.set_va("center")
    fig.text(p["xl2"][0] / W, 1 - p["xl2"][1] / H, "Log$_2$ (RPM+1)", fontsize=15.3, ha="center", va="center")

    lines = ("Spearman",) + p["stats"]
    for txt, ty in zip(lines, p["ty"]):
        fig.text(p["tx"] / W, 1 - ty / H, txt, color=RED, fontsize=13.2, ha="right", va="center", zorder=5)

plt.savefig("out.png", dpi=100)
